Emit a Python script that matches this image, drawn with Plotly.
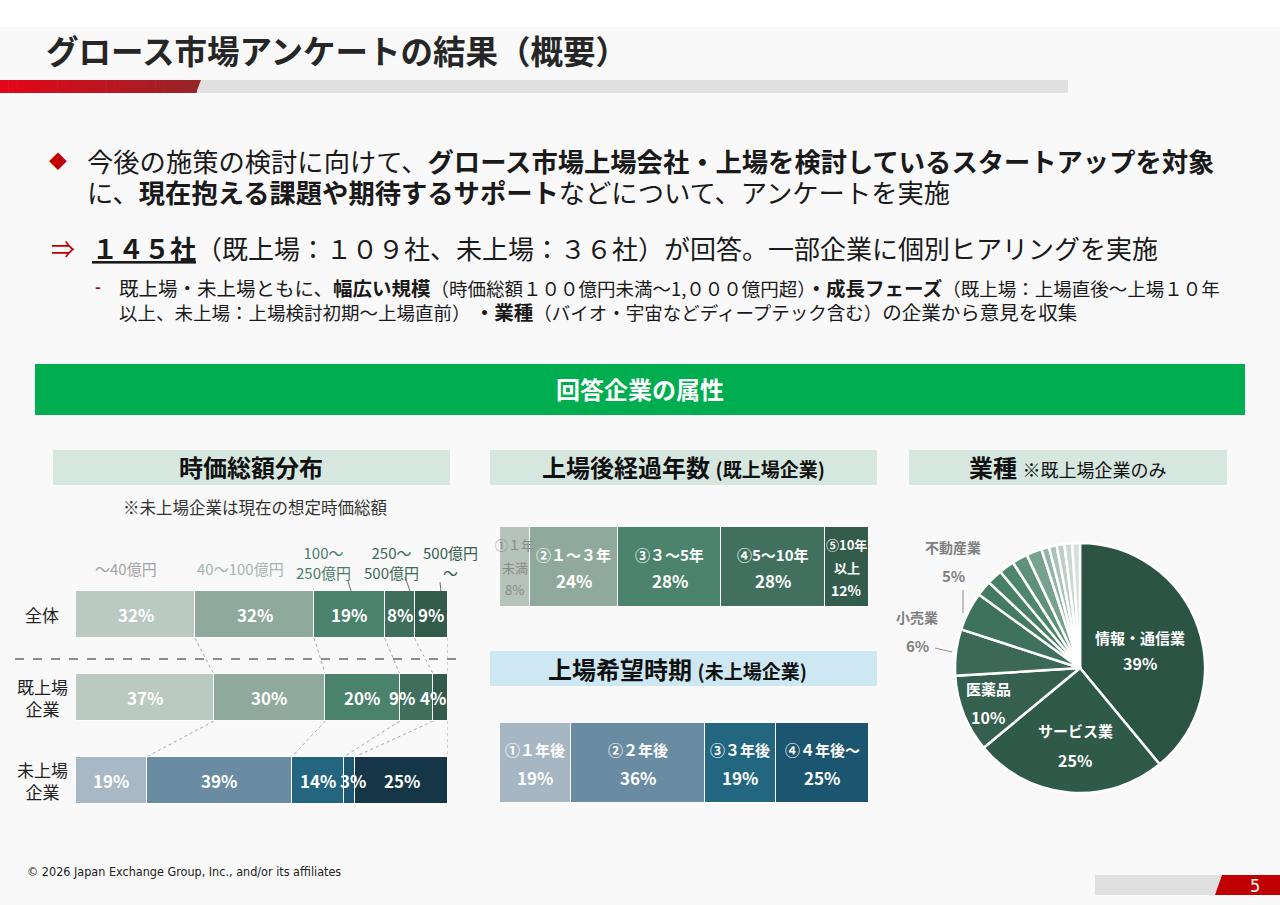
import plotly.graph_objects as go

W, H = 1280, 905
def X(p): return p / W
def Y(p): return 1 - p / H

FONT = "Noto Sans CJK JP"

# ---------------- data ----------------
cap_bins = ["～40億円", "40～100億円", "100～<br>250億円", "250～<br>500億円", "500億円<br>～"]
cap_rows = ["全体", "既上場<br>企業", "未上場<br>企業"]
cap_all = [32, 32, 19, 8, 9]
cap_listed = [37, 30, 20, 9, 4]
cap_unlisted = [19, 39, 14, 3, 25]

years_labels = ["①１年<br>未満", "②１～３年", "③３～5年", "④5～10年", "⑤10年<br>以上"]
years_vals = [8, 24, 28, 28, 12]

ipo_labels = ["①１年後", "②２年後", "③３年後", "④４年後～"]
ipo_vals = [19, 36, 19, 25]

ind_labels = ["情報・通信業", "サービス業", "医薬品", "小売業", "不動産業",
              "その他1", "その他2", "その他3", "その他4", "その他5",
              "その他6", "その他7", "その他8", "その他9", "その他10"]
ind_vals = [39, 25, 10, 6, 5, 2, 2, 2, 2, 2, 1, 1, 1, 1, 1]

# ---------------- styles ----------------
GREEN_A = ["#bac9c1", "#8fa99c", "#4a826c", "#3f6f5c", "#335b4b"]
BLUE_A = ["#a9b8c5", "#6a8ca3", "#24657f", "#1d5670", "#143647"]
GREEN_B = ["#b5c3bb", "#8fa99c", "#4b836c", "#41715e", "#345c4c"]
BLUE_C = ["#a7b6c3", "#6a8ca3", "#23667f", "#1c5570"]
PIE_COLORS = ["#2b5444", "#2f5a49", "#35604f", "#3b6956", "#3f725c",
              "#447a61", "#488066", "#4e866b", "#5f9079", "#78a290",
              "#93b4a6", "#a9c3b8", "#bbcfc6", "#c8d9d2", "#d3e0db"]
BIN_COLORS = ["#a3a3a3", "#a4b6ad", "#4c7d6c", "#3f6a5a", "#355e4f"]
LABEL_SHIFT = {(1, 3): -14, (1, 4): -8, (2, 3): 4}   # pixel nudges for crowded labels

fig = go.Figure()

# ---------------- chart A: market cap ----------------
rows_vals = [cap_all, cap_listed, cap_unlisted]
BAR_W = 0.57
for i in range(len(cap_bins)):
    xs = [r[i] for r in rows_vals]
    fig.add_trace(go.Bar(
        y=[0, 1, 2], x=xs, orientation="h", width=BAR_W,
        marker=dict(color=[GREEN_A[i], GREEN_A[i], BLUE_A[i]], line=dict(color="white", width=1.5)),
        xaxis="x", yaxis="y", hoverinfo="skip", showlegend=False))

# ---------------- chart B: years since listing ----------------
for i, v in enumerate(years_vals):
    fig.add_trace(go.Bar(
        y=[0], x=[v], orientation="h", width=1,
        marker=dict(color=GREEN_B[i], line=dict(color="white", width=1.5)),
        xaxis="x2", yaxis="y2", hoverinfo="skip", showlegend=False))

# ---------------- chart C: desired IPO timing ----------------
for i, v in enumerate(ipo_vals):
    fig.add_trace(go.Bar(
        y=[0], x=[v], orientation="h", width=1,
        marker=dict(color=BLUE_C[i], line=dict(color="white", width=1.5)),
        xaxis="x3", yaxis="y3", hoverinfo="skip", showlegend=False))

# ---------------- pie ----------------
fig.add_trace(go.Pie(
    labels=ind_labels, values=ind_vals, sort=False, direction="clockwise", rotation=0,
    marker=dict(colors=PIE_COLORS, line=dict(color="white", width=2.5)),
    textinfo="none", hoverinfo="skip", showlegend=False,
    domain=dict(x=[X(955), X(1205)], y=[Y(793), Y(543)])))

shapes = []
ann = []

def rect(x0, y0, x1, y1, color, layer="below"):
    shapes.append(dict(type="rect", xref="paper", yref="paper", x0=X(x0), x1=X(x1),
                       y0=Y(y1), y1=Y(y0), fillcolor=color, line=dict(width=0), layer=layer))

def poly(pts, color, layer="below"):
    d = "M " + " L ".join(f"{X(a)},{Y(b)}" for a, b in pts) + " Z"
    shapes.append(dict(type="path", xref="paper", yref="paper", path=d,
                       fillcolor=color, line=dict(width=0), layer=layer))

def line(x0, y0, x1, y1, color, width=1, dash="solid"):
    shapes.append(dict(type="line", xref="paper", yref="paper", x0=X(x0), y0=Y(y0),
                       x1=X(x1), y1=Y(y1), line=dict(color=color, width=width, dash=dash)))

def text(x, y, s, size, color="#1a1a1a", xanchor="left", family=FONT, align="left"):
    ann.append(dict(x=X(x), y=Y(y), xref="paper", yref="paper", text=s, showarrow=False,
                    xanchor=xanchor, yanchor="middle", align=align,
                    font=dict(family=family, size=size, color=color)))

def cums(v):
    out, s = [], 0
    for a in v:
        s += a
        out.append(s)
    return out

# top white band
rect(0, 0, 1280, 27, "#ffffff")

# title
text(44, 50, "<b>グロース市場アンケートの結果（概要）</b>", 32.5, "#262626")

# title underline: grey + red gradient
rect(195, 80, 1068, 93, "#e0e0e0")
N = 24
c0, c1 = (228, 6, 24), (152, 36, 40)
for k in range(N):
    t = k / (N - 1)
    col = "rgb({},{},{})".format(*[int(c0[j] + (c1[j] - c0[j]) * t) for j in range(3)])
    rect(196 * k / N, 80, 196 * (k + 1) / N + 0.6, 93, col)
poly([(196, 80), (201, 80), (196, 93)], "rgb(152,36,40)")

# text block
RED = "#c00000"
BIG = "<span style='font-size:26.3px'>"
text(58, 160, "◆", 18, RED, "center")
text(85, 176,
     BIG + "今後の施策の検討に向けて、<b>グロース市場上場会社・上場を検討しているスタートアップを対象</b></span><br>"
     + BIG + "に、<b>現在抱える課題や期待するサポート</b>などについて、アンケートを実施</span>", 24)
text(63, 247, "⇒", 24, RED, "center")
text(90, 248, "<b><u>１４５社</u></b>（既上場：１０９社、未上場：３６社）が回答。一部企業に個別ヒアリングを実施", 26)
text(98, 286, "<b>-</b>", 16, RED, "center")
MN = "<span style='font-size:19.5px'>"
text(117, 299,
     MN + "既上場・未上場ともに、<b>幅広い規模</b></span>（時価総額１００億円未満～1,０００億円超）"
     + MN + "<b>・成長フェーズ</b></span>（既上場：上場直後～上場１０年<br>"
     + "以上、未上場：上場検討初期～上場直前） " + MN + "<b>・業種</b></span>"
     + "（バイオ・宇宙などディープテック含む）" + MN + "の企業から意見を収集</span>", 18.5)

# green band
rect(35, 364, 1245, 415, "#00ad4f")
text(640, 388, "<b>回答企業の属性</b>", 24, "#ffffff", "center")

# section headers
HDR_G = "#d6e7e0"
HDR_B = "#cde8f2"
rect(53, 450, 450, 485, HDR_G)
text(251, 467, "<b>時価総額分布</b>", 24, "#111", "center")
rect(490, 450, 877, 485, HDR_G)
text(683, 467, "<b>上場後経過年数 <span style='font-size:19px'>(既上場企業)</span></b>", 24, "#111", "center")
rect(909, 450, 1227, 485, HDR_G)
text(1067, 467, "<b>業種</b> <span style='font-size:18px'>※既上場企業のみ</span>", 24, "#111", "center")
rect(490, 651, 877, 686, HDR_B)
text(677, 668, "<b>上場希望時期 <span style='font-size:19px'>(未上場企業)</span></b>", 24, "#111", "center")

text(255, 507, "※未上場企業は現在の想定時価総額", 16.5, "#333", "center")

# chart A: row labels
for r, lab in enumerate(cap_rows):
    ann.append(dict(x=X(42), y=r, xref="paper", yref="y", text=lab, showarrow=False,
                    xanchor="center", yanchor="middle", align="center",
                    font=dict(family=FONT, size=17, color="#222")))

# chart A: value labels (centred on each segment)
for r, vals in enumerate(rows_vals):
    cs = cums(vals)
    for k, v in enumerate(vals):
        ann.append(dict(x=cs[k] - v / 2, y=r, xref="x", yref="y", text=f"<b>{v}%</b>",
                        showarrow=False, xanchor="center", yanchor="middle",
                        xshift=LABEL_SHIFT.get((r, k), 0),
                        font=dict(family=FONT, size=17, color="white")))

# chart A: bin labels above
BIN_POS = [(126, 568), (240, 568), (323, 562), (391, 562), (450, 562)]
for i, lab in enumerate(cap_bins):
    ann.append(dict(x=X(BIN_POS[i][0]), y=Y(BIN_POS[i][1]), xref="paper", yref="paper", text=lab,
                    showarrow=False, xanchor="center", yanchor="middle", align="center",
                    font=dict(family=FONT, size=15, color=BIN_COLORS[i])))
line(348, 581, 351, 591, "#6b6b6b", 1)
line(405, 577, 410, 591, "#6b6b6b", 1)
line(440, 582, 441, 591, "#6b6b6b", 1)

# dashed separator
line(15, 659, 457, 659, "#8c8c8c", 2.2, "dash")

# connectors between stacked bars (data coords)
for r in range(2):
    top = cums(rows_vals[r])
    bot = cums(rows_vals[r + 1])
    for k in range(len(top)):
        shapes.append(dict(type="line", xref="x", yref="y", x0=top[k], y0=r + BAR_W / 2,
                           x1=bot[k], y1=r + 1 - BAR_W / 2,
                           line=dict(color="#a6a6a6", width=1, dash="dot"), layer="below"))

# chart B labels
cb = cums(years_vals)
B_STYLE = [("#8a8a8a", 13, 13, False), ("white", 15, 17, True), ("white", 15, 17, True),
           ("white", 15, 17, True), ("white", 13, 14, True)]
for i, v in enumerate(years_vals):
    lines = years_labels[i].split("<br>") + [f"{v}%"]
    col, fs, fv, bold = B_STYLE[i]
    gap = 22.5 if len(lines) == 3 else 26
    y0 = 567 - gap * (len(lines) - 1) / 2
    for j, s in enumerate(lines):
        size = fv if j == len(lines) - 1 else fs
        ann.append(dict(x=cb[i] - v / 2, y=Y(y0 + j * gap), xref="x2", yref="paper",
                        text=f"<b>{s}</b>" if bold else s, showarrow=False,
                        xanchor="center", yanchor="middle",
                        font=dict(family=FONT, size=size, color=col)))

# chart C labels
cc = cums(ipo_vals)
for i, v in enumerate(ipo_vals):
    for j, s in enumerate([ipo_labels[i], f"{v}%"]):
        ann.append(dict(x=cc[i] - v / 2, y=Y(749 + j * 28), xref="x3", yref="paper",
                        text=f"<b>{s}</b>", showarrow=False, xanchor="center", yanchor="middle",
                        font=dict(family=FONT, size=15 if j == 0 else 17, color="white")))

# pie labels
PIE_IN = {0: (1140, 637, 663), 1: (1075, 730, 760), 2: (988, 688, 717)}
for i, (px_, y1, y2) in PIE_IN.items():
    text(px_, y1, f"<b>{ind_labels[i]}</b>", 15, "white", "center")
    text(px_, y2, f"<b>{ind_vals[i]}%</b>", 16, "white", "center")
PIE_OUT = {3: (917, 617, 645), 4: (953, 547, 575)}
for i, (px_, y1, y2) in PIE_OUT.items():
    text(px_, y1, f"<b>{ind_labels[i]}</b>", 14, "#7f7f7f", "center")
    text(px_, y2, f"<b>{ind_vals[i]}%</b>", 15, "#7f7f7f", "center")
line(935, 648, 952, 652, "#8c8c8c", 1)
line(963, 590, 963, 613, "#8c8c8c", 1)

# footer
NARROW = "Liberation Sans Narrow, DejaVu Sans Condensed, sans-serif"
text(25, 871, "© 2026 Japan Exchange Group, Inc., and/or its affiliates", 12.5, "#222", family=NARROW)
rect(1095, 875, 1225, 895, "#e0e0e0")
poly([(1222, 875), (1280, 875), (1280, 895), (1215, 895)], "#c00000")
text(1255, 885, "5", 18, "white", "center", family=NARROW)

fig.update_layout(
    width=W, height=H, margin=dict(l=0, r=0, t=0, b=0),
    paper_bgcolor="#f9f9f9", plot_bgcolor="rgba(0,0,0,0)",
    barmode="stack", bargap=0, showlegend=False, hovermode=False,
    font=dict(family=FONT),
    modebar=dict(bgcolor="rgba(0,0,0,0)", color="rgba(0,0,0,0)", activecolor="rgba(0,0,0,0)"),
    xaxis=dict(domain=[X(76), X(448)], range=[0, 100], visible=False, fixedrange=True),
    yaxis=dict(domain=[Y(822), Y(573)], range=[2.5, -0.5], visible=False, fixedrange=True),
    xaxis2=dict(domain=[X(500), X(869)], range=[0, sum(years_vals)], visible=False, anchor="y2"),
    yaxis2=dict(domain=[Y(607), Y(527)], range=[-0.5, 0.5], visible=False, anchor="x2"),
    xaxis3=dict(domain=[X(500), X(869)], range=[0, sum(ipo_vals)], visible=False, anchor="y3"),
    yaxis3=dict(domain=[Y(803), Y(723)], range=[-0.5, 0.5], visible=False, anchor="x3"),
    shapes=shapes, annotations=ann,
)

fig.write_html("out.html", config={"displayModeBar": False},
               post_script="document.body.style.margin='0px';")
